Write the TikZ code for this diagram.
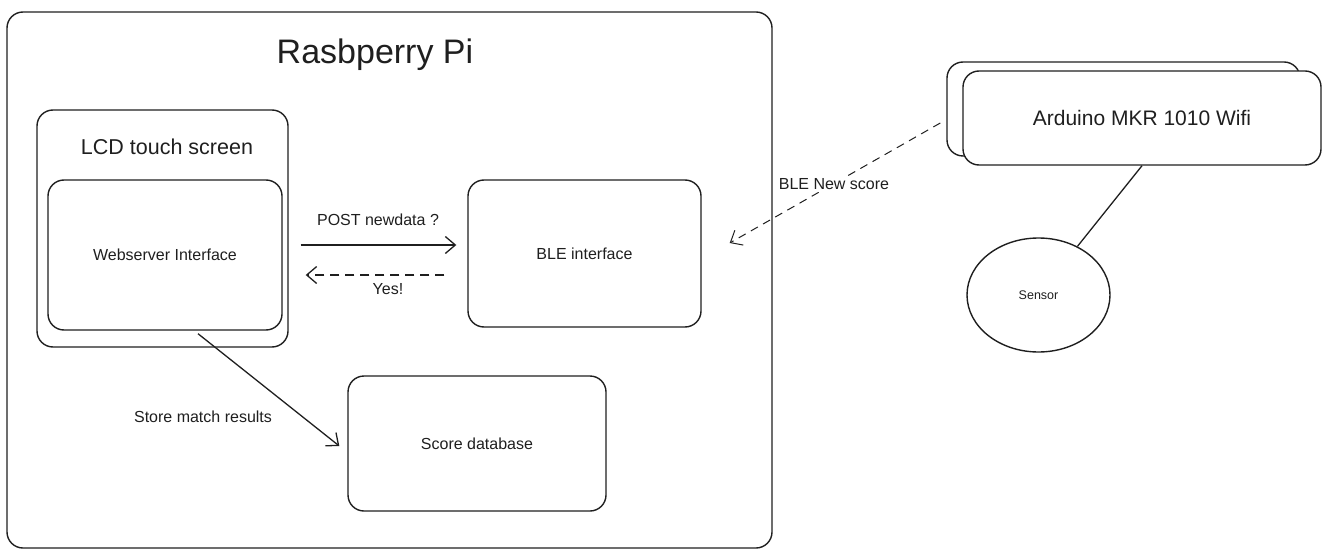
\documentclass[tikz,border=0pt]{standalone}
\usepackage{fontspec}
\setmainfont{Liberation Sans}
\usetikzlibrary{arrows.meta,shapes.geometric}

\begin{document}
\begin{tikzpicture}
        [   x=1pt, y=-1pt,
            BoxNode/.style=
            {rectangle, rounded corners=16pt, draw=black!88,
            line width=1.4pt, inner sep=0pt},
            BigText/.style=
            {font=\fontsize{21.5}{26}\selectfont, text=black!88},
            SmallText/.style=
            {font=\fontsize{16}{19}\selectfont, text=black!88},
            Conn/.style=
            {draw=black!88, line width=1.3pt,
            -{Straight Barb[length=10pt,width=17pt]}},
            DashConn/.style=
            {Conn, dash pattern=on 9pt off 6pt}
        ]
            \useasboundingbox (0,0) rectangle (1329,556);

            % Raspberry Pi side
            \node[BoxNode, minimum width=765pt, minimum height=536pt] (rpi) at (389.5,280){};
            \node[font=\fontsize{34}{40}\selectfont, text=black!88] (rpiTitle) at (375,55){Rasbperry Pi};

            \node[BoxNode, minimum width=251pt, minimum height=237pt] (lcd) at (162.5,228.5){};
            \node[BigText] (lcdTitle) at (167,147){LCD touch screen};
            \node[BoxNode, minimum width=234pt, minimum height=150pt] (web) at (165,255)
                [SmallText]{Webserver Interface};
            \node[BoxNode, minimum width=233pt, minimum height=147pt] (ble) at (584.5,253.5)
                [SmallText]{BLE interface};
            \node[BoxNode, minimum width=258pt, minimum height=135pt] (db) at (477,443.5)
                [SmallText]{Score database};

            % Arduino side
            \node[BoxNode, minimum width=353pt, minimum height=94pt] (ardBack) at (1123.5,109){};
            \node[BoxNode, fill=white, minimum width=358pt, minimum height=94pt] (ard) at (1142,118)
                [BigText, font=\fontsize{21}{25}\selectfont]{Arduino MKR 1010 Wifi};
            \node[ellipse, draw=black!88, line width=1.4pt, inner sep=0pt,
                minimum width=143pt, minimum height=114pt] (sensor) at (1038.5,295)
                [SmallText, font=\fontsize{12.5}{15}\selectfont]{Sensor};

            % connectors
            \draw[Conn] ([xshift=12pt,yshift=-16.5pt]lcd.east)
                -- ([xshift=-11pt,yshift=-16.5pt]lcd.east -| ble.west);
            \node[SmallText] (postLabel) at (378,220){POST newdata ?};
            \draw[DashConn] ([xshift=-23pt,yshift=-46.5pt]lcd.east -| ble.west)
                -- ([xshift=17pt,yshift=-46.5pt]lcd.east);
            \node[SmallText] (yesLabel) at (388,289){Yes!};
            \draw[Conn] ([xshift=33pt,yshift=-3pt]web.south)
                -- ([xshift=-8pt,yshift=-2.5pt]db.west);
            \node[SmallText] (storeLabel) at (203,417){Store match results};
            \draw[DashConn, line width=1pt, dash pattern=on 8pt off 6pt]
                ([xshift=-6pt,yshift=-14pt]ardBack.west)
                -- ([xshift=28pt,yshift=10.5pt]ble.east);
            \node[SmallText, fill=white, inner sep=2pt] (bleLabel) at (834,184){BLE New score};
            \draw[draw=black!88, line width=1.3pt] (ard.south) -- (sensor);
    \end{tikzpicture}
\end{document}
